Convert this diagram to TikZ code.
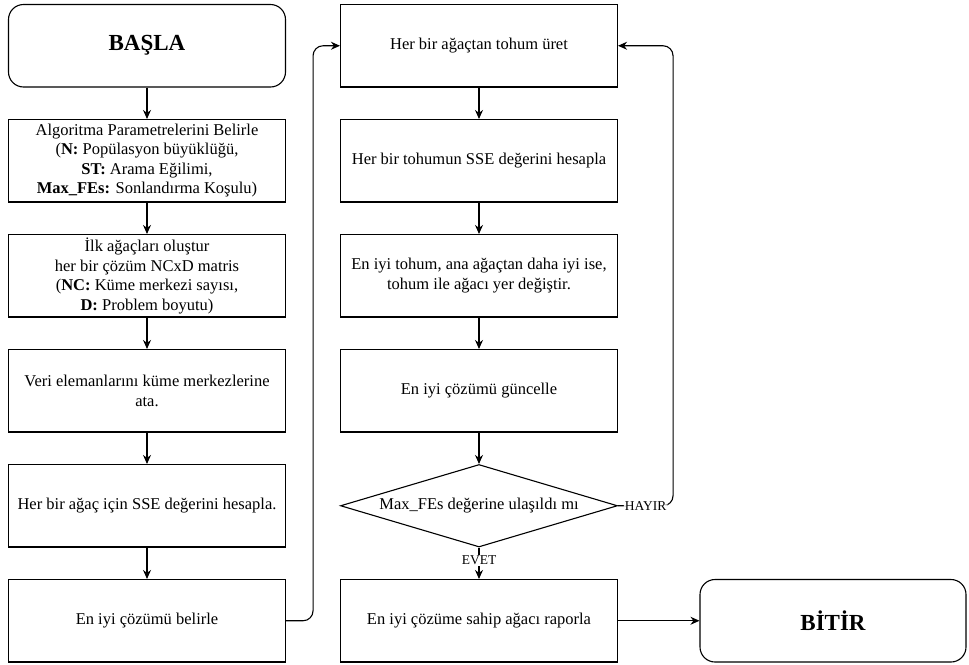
\documentclass[tikz,border=0pt]{standalone}
\usepackage{fontspec}
\setmainfont{Liberation Serif}[BoldFont={Liberation Serif Bold}]
\newfontfamily\tnr{Liberation Serif}
\usetikzlibrary{arrows.meta,shapes.geometric}
\begin{document}
\begin{tikzpicture}[x=1pt,y=-1pt,
  box/.style={draw,line width=1.1pt,minimum width=277pt,minimum height=82.5pt,inner sep=0pt,align=center,font=\tnr\fontsize{16.5}{19.5}\selectfont},
  term/.style={box,rounded corners=15pt,font=\tnr\fontsize{23}{27}\selectfont\bfseries},
  decis/.style={draw,diamond,line width=1.1pt,minimum width=277pt,minimum height=82.5pt,inner sep=0pt,aspect=3.36,align=center,font=\tnr\fontsize{16.5}{19.5}\selectfont},
  arr/.style={line width=1.1pt,-{Stealth[length=9pt,width=8pt]}},
  lbl/.style={fill=white,inner sep=1pt,font=\tnr\fontsize{13.5}{15}\selectfont}]
\useasboundingbox (0,0) rectangle (969,664);
% left column
\node[term] (start) at (147,45.75) {BAŞLA};
\node[box] (p1) at (147,160.75) {Algoritma Parametrelerini Belirle\\(\textbf{N:} Popülasyon büyüklüğü,\\\textbf{ST:} Arama Eğilimi,\\\textbf{Max\_FEs:} Sonlandırma Koşulu)};
\node[box] (p2) at (147,275.75) {İlk ağaçları oluştur\\her bir çözüm NCxD matris\\(\textbf{NC:} Küme merkezi sayısı,\\\textbf{D:} Problem boyutu)};
\node[box] (p3) at (147,390.75) {Veri elemanlarını küme merkezlerine\\ata.};
\node[box] (p4) at (147,505.75) {Her bir ağaç için SSE değerini hesapla.};
\node[box] (p5) at (147,620.75) {En iyi çözümü belirle};
% middle column
\node[box] (m1) at (479,45.75) {Her bir ağaçtan tohum üret};
\node[box] (m2) at (479,160.75) {Her bir tohumun SSE değerini hesapla};
\node[box] (m3) at (479,275.75) {En iyi tohum, ana ağaçtan daha iyi ise,\\tohum ile ağacı yer değiştir.};
\node[box] (m4) at (479,390.75) {En iyi çözümü güncelle};
\node[decis] (dec) at (479,505.75) {Max\_FEs değerine ulaşıldı mı};
\node[box] (m5) at (479,620.75) {En iyi çözüme sahip ağacı raporla};
% end
\node[term,minimum width=266pt] (end) at (833,620.75) {BİTİR};
% connectors
\draw[arr] (start) -- (p1);
\draw[arr] (p1) -- (p2);
\draw[arr] (p2) -- (p3);
\draw[arr] (p3) -- (p4);
\draw[arr] (p4) -- (p5);
\draw[arr,rounded corners=10pt] (p5.east) -- ++(27,0) |- (m1.west);
\draw[arr] (m1) -- (m2);
\draw[arr] (m2) -- (m3);
\draw[arr] (m3) -- (m4);
\draw[arr] (m4) -- (dec);
\draw[arr] (dec.south) -- node[lbl,pos=0.4]{EVET} (m5.north);
\draw[arr,rounded corners=10pt] (dec.east) -- node[lbl,pos=0.5]{HAYIR} ++(55,0) |- (m1.east);
\draw[arr] (m5) -- (end);
\end{tikzpicture}
\end{document}
